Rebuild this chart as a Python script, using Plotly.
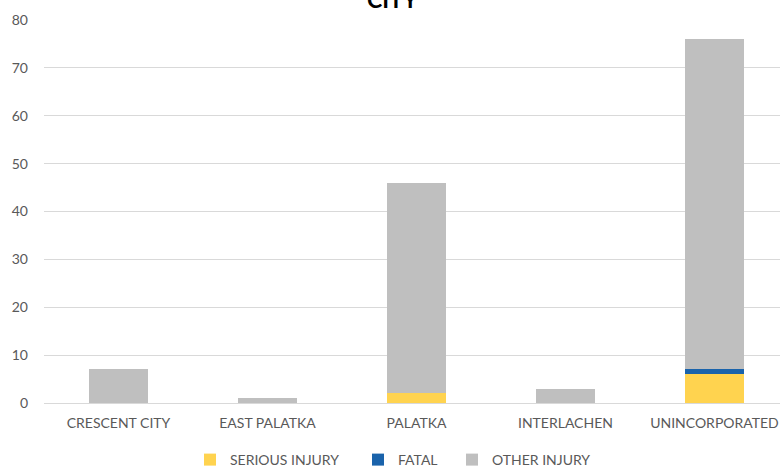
import plotly.graph_objects as go

categories = ["CRESCENT CITY", "EAST PALATKA", "PALATKA", "INTERLACHEN", "UNINCORPORATED"]
serious_injury = [0, 0, 2, 0, 6]
fatal = [0, 0, 0, 0, 1]
other_injury = [7, 1, 44, 3, 69]
y_ticks = [0, 10, 20, 30, 40, 50, 60, 70, 80]

FONT = "Lato, Open Sans, sans-serif"
TEXT = "#595959"

fig = go.Figure()
fig.add_trace(go.Bar(name="SERIOUS INJURY", x=categories, y=serious_injury, marker_color="#FFD34F",
                     marker_line_width=0, legend="legend"))
fig.add_trace(go.Bar(name="FATAL", x=categories, y=fatal, marker_color="#1A63AB",
                     marker_line_width=0, legend="legend2"))
fig.add_trace(go.Bar(name="OTHER INJURY", x=categories, y=other_injury, marker_color="#BFBFBF",
                     marker_line_width=0, legend="legend3"))

leg_common = dict(orientation="h", xref="container", yref="container", xanchor="left",
                  y=(468 - 460) / 468, yanchor="middle", font=dict(size=14, color=TEXT),
                  itemwidth=30, bgcolor="rgba(0,0,0,0)")

fig.update_layout(
    barmode="stack",
    bargap=0.6,
    width=780, height=468,
    margin=dict(l=44, r=0, t=20, b=65, autoexpand=False),
    plot_bgcolor="white", paper_bgcolor="white",
    font=dict(family=FONT, size=14, color=TEXT),
    title=dict(text="<b>CITY</b>", x=0.503, xanchor="center", y=1.0, yanchor="middle",
               font=dict(family=FONT, size=23, color="#000000")),
    showlegend=True,
    legend=dict(x=190 / 780, **leg_common),
    legend2=dict(x=358 / 780, **leg_common),
    legend3=dict(x=452 / 780, **leg_common),
    xaxis=dict(range=[-0.5, 4.44], showgrid=False, showline=False, ticks="",
               ticklabelstandoff=10, tickfont=dict(size=14, color=TEXT)),
    yaxis=dict(range=[0, 80], tickvals=y_ticks, showgrid=True, gridcolor="#D9D9D9",
               gridwidth=1, zeroline=True, zerolinecolor="#D9D9D9", zerolinewidth=1,
               showline=False, ticks="", ticklabelstandoff=15,
               tickfont=dict(size=14, color=TEXT)),
)

fig.write_html("out.html", config={"displayModeBar": False},
               post_script="document.body.style.margin='0';")
